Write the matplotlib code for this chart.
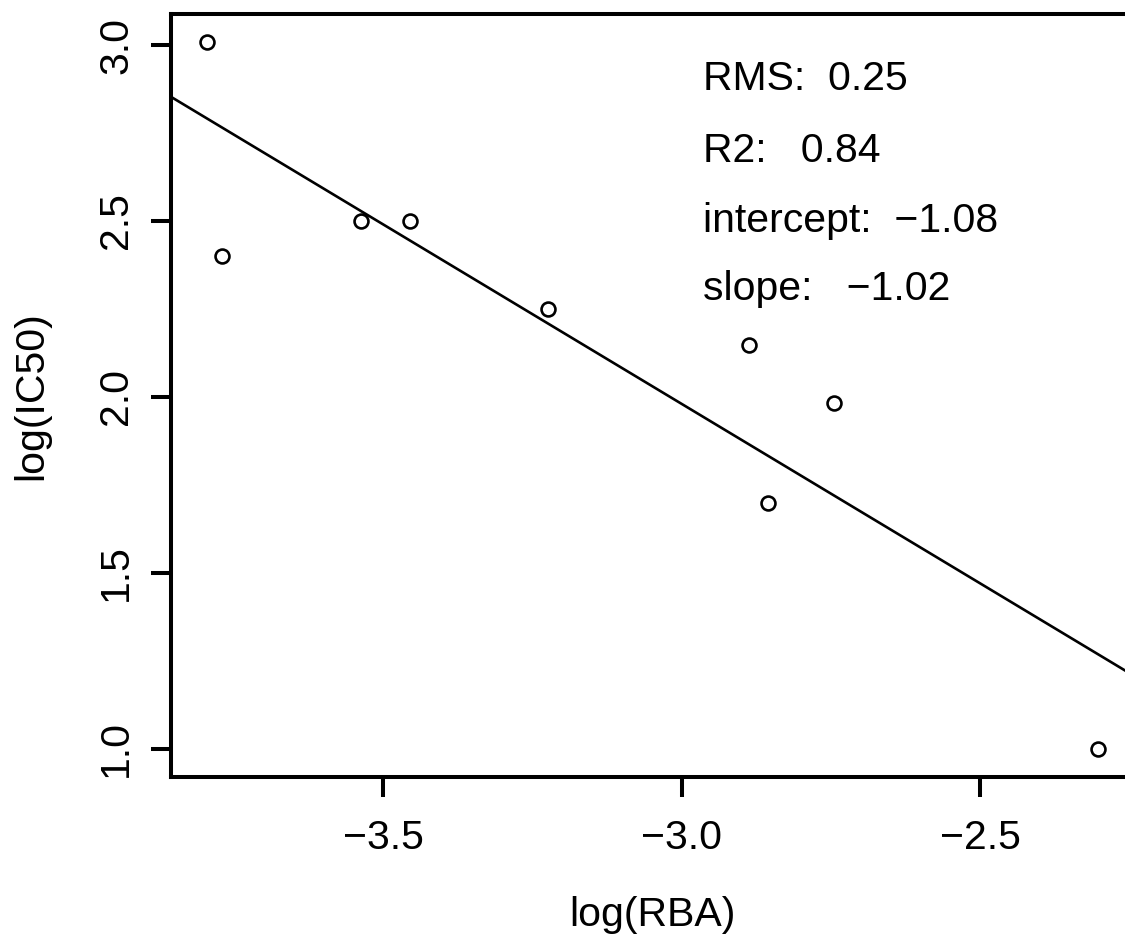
import matplotlib
matplotlib.use("Agg")
import matplotlib.pyplot as plt
import numpy as np

# values
log_rba = [-3.796, -3.770, -3.537, -3.456, -3.224, -2.887, -2.855, -2.745, -2.302]
log_ic50 = [3.008, 2.40, 2.50, 2.50, 2.25, 2.148, 1.699, 1.983, 1.0]
intercept = -1.08
slope = -1.02
stat_labels = ["RMS:  0.25", "R2:   0.84", "intercept:  \u22121.08", "slope:   \u22121.02"]
stat_y = [2.872, 2.668, 2.469, 2.276]
xticks = [-3.5, -3.0, -2.5]
yticks = [1.0, 1.5, 2.0, 2.5, 3.0]

plt.rcParams['font.family'] = ['Liberation Sans', 'DejaVu Sans']
fs = 29.5

fig = plt.figure(figsize=(11.25, 9.42), dpi=100)
ax = fig.add_axes([171 / 1125, 1 - 777 / 942, (1134 - 171) / 1125, 763 / 942])

ax.plot(log_rba, log_ic50, 'o', mfc='none', mec='black', ms=10, mew=1.9)
ax.axline((0, intercept), slope=slope, color='black', lw=1.9)

# R-style 4% padding around the data
x = np.array(log_rba)
y = np.array(log_ic50)
ax.set_xlim(x.min() - 0.04 * np.ptp(x), x.max() + 0.04 * np.ptp(x))
ax.set_ylim(y.min() - 0.04 * np.ptp(y), y.max() + 0.04 * np.ptp(y))

for lab, yy in zip(stat_labels, stat_y):
    ax.text(-2.964, yy, lab, fontsize=fs, ha='left', va='baseline')

ax.set_xticks(xticks)
ax.set_yticks(yticks)
ax.set_xticklabels([f"{t:.1f}".replace('-', '\u2212') for t in xticks])
ax.set_yticklabels([f"{t:.1f}" for t in yticks], rotation=90, va='center')
ax.tick_params(axis='both', length=14.4, width=2.9, labelsize=fs)
ax.tick_params(axis='x', pad=16)
ax.tick_params(axis='y', pad=11.5)
for sp in ax.spines.values():
    sp.set_linewidth(2.9)

ax.set_xlabel("log(RBA)", fontsize=fs)
ax.set_ylabel("log(IC50)", fontsize=fs)
ax.xaxis.set_label_coords(0.5, -0.156)
ax.yaxis.set_label_coords(-0.1256, 0.5)

fig.savefig("out.png", dpi=100)
